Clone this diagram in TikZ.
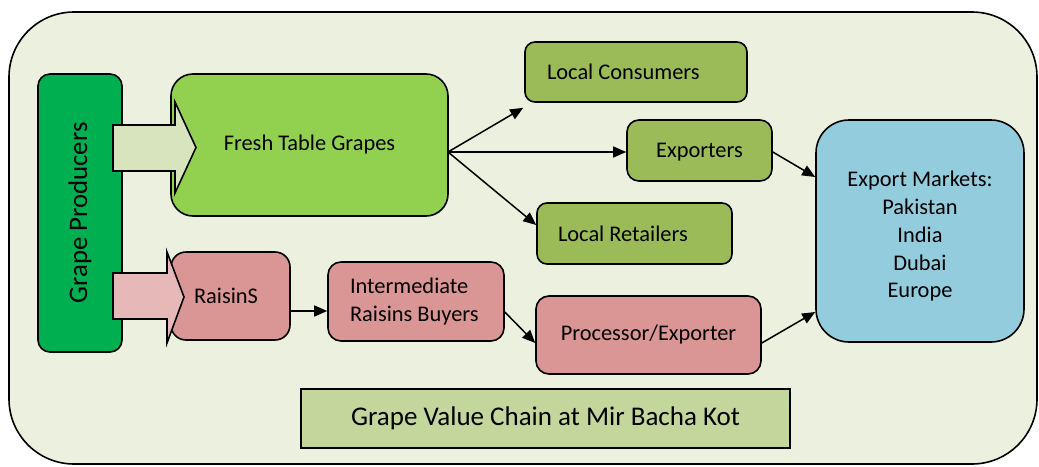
\documentclass[tikz,border=0pt]{standalone}
\usepackage{fontspec}
\setmainfont{Carlito}
\usetikzlibrary{arrows.meta}
\definecolor{bgc}{HTML}{EBF1DE}
\definecolor{gpc}{HTML}{00B050}
\definecolor{ftc}{HTML}{92D050}
\definecolor{fac}{HTML}{D7E4BD}
\definecolor{olc}{HTML}{9BBB59}
\definecolor{rdc}{HTML}{D99694}
\definecolor{rac}{HTML}{E6B9B8}
\definecolor{emc}{HTML}{93CDDD}
\definecolor{ttc}{HTML}{C3D69B}
\tikzset{
  box/.style={draw=black, line width=1.6pt, inner sep=0pt, anchor=center,
    font=\fontsize{22.4pt}{27.5pt}\selectfont},
  lbox/.style={box, align=flush left, inner xsep=22pt},
  cbox/.style={box, align=center},
  blockarrow/.style={draw=black, line width=1.6pt, line join=miter},
  arr/.style={line width=1.5pt, -{Triangle[length=13pt,width=11pt]}}
}
\begin{document}
\begin{tikzpicture}[x=1pt,y=-1pt]
\useasboundingbox (0,0) rectangle (1039,466);
% outer frame
\draw[line width=1.6pt, fill=bgc, rounded corners=65pt] (9,12) rectangle (1037,464);

% nodes
\node[box, fill=gpc, rounded corners=12pt, rotate=90, minimum width=278pt, minimum height=84pt,
  font=\fontsize{26.8pt}{30pt}\selectfont] (gp) at (80,213) {Grape Producers};
\node[cbox, fill=ftc, rounded corners=22pt, minimum width=277pt, minimum height=142pt] (ftg) at (309.5,145) {Fresh Table Grapes};
\node[lbox, fill=olc, rounded corners=10pt, text width=178pt, minimum height=60pt] (lc) at (636,72) {Local Consumers};
\node[cbox, fill=olc, rounded corners=12pt, minimum width=145pt, minimum height=61pt, text depth=0pt] (ex) at (699.5,150.5) {Exporters};
\node[lbox, fill=olc, rounded corners=10pt, text width=153pt, inner xsep=21pt, minimum height=61pt] (lr) at (634.5,233.5) {Local Retailers};
\node[cbox, fill=emc, rounded corners=33pt, minimum width=208pt, minimum height=222pt,
  font=\fontsize{22.4pt}{27.8pt}\selectfont] (em) at (920,231) {\rule{0pt}{26pt}Export Markets:\\Pakistan\\India\\Dubai\\Europe};
\node[lbox, fill=rdc, rounded corners=15pt, text width=73pt, inner xsep=23pt, minimum height=88pt] (rs) at (230.5,296) {RaisinS};
\node[lbox, fill=rdc, rounded corners=13pt, text width=132pt, minimum height=79pt] (ib) at (416,301.5) {Intermediate\\Raisins Buyers};
\node[cbox, fill=rdc, rounded corners=13pt, minimum width=225pt, minimum height=78pt] (pe) at (648.5,335) {Processor/Exporter};
\node[cbox, fill=ttc, line width=1.4pt, minimum width=489pt, minimum height=59pt,
  font=\fontsize{27pt}{30pt}\selectfont] (title) at (545.5,418.5) {Grape Value Chain at Mir Bacha Kot};

% block arrows
\draw[blockarrow, fill=fac] (113,125) -- (175,125) -- (175,102) -- (196,147.5) -- (175,193) -- (175,171) -- (113,171) -- cycle;
\draw[blockarrow, fill=rac] (113,273) -- (167,273) -- (167,252) -- (184,297) -- (167,343) -- (167,319) -- (113,319) -- cycle;

% connectors
\coordinate (fan) at (448,152);
\draw[arr] (fan) -- ([xshift=-1pt,yshift=-5pt]lc.south west);
\draw[arr] (fan) -- (fan -| ex.west);
\draw[arr] (fan) -- ([yshift=8.5pt]lr.west);
\draw[arr] ([yshift=-1.5pt]ex.east) -- ([yshift=54pt]em.west);
\draw[arr] ([yshift=-15pt]rs.east) -- ([yshift=-15pt]rs.east -| ib.west);
\draw[arr] ([yshift=-10.5pt]ib.east) -- ([yshift=-8pt]pe.west);
\draw[arr] ([yshift=-8pt]pe.east) -- ([yshift=-81pt]em.west);
\end{tikzpicture}
\end{document}
